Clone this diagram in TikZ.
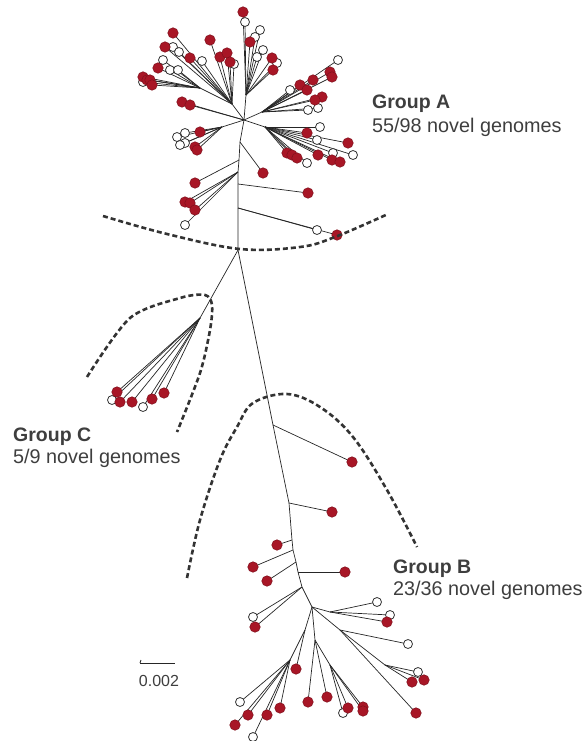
\documentclass[tikz,border=0pt]{standalone}
\usepackage{fontspec}
\setmainfont{Liberation Sans}
\definecolor{leafred}{RGB}{168,22,38}
\definecolor{txt}{RGB}{62,62,62}
\begin{document}
\begin{tikzpicture}[x=1pt,y=-1pt,
  br/.style={draw=black!85, line width=0.7pt},
  rl/.style={circle, inner sep=0pt, minimum size=10.5pt, fill=leafred, draw=leafred!75!black, line width=0.5pt},
  ol/.style={circle, inner sep=0pt, minimum size=9pt, fill=white, draw=black!80, line width=0.8pt},
  dashline/.style={draw=black!80, line width=2.6pt, dash pattern=on 5pt off 3pt},
  gtitle/.style={anchor=base west, inner sep=0pt, text=txt, font=\bfseries\fontsize{19.5}{22}\selectfont},
  gsub/.style={anchor=base west, inner sep=0pt, text=txt, font=\fontsize{19.8}{22}\selectfont}]
\useasboundingbox (0,0) rectangle (585,741);

% internal nodes
\coordinate (hubA) at (244,120);
\coordinate (upA) at (246,95);
\coordinate (ulA) at (232,104);
\coordinate (ulB) at (200,88);
\coordinate (urA) at (262,112);
\coordinate (lrA) at (265,127);
\coordinate (lA) at (222,127);
\coordinate (tA1) at (240,142);
\coordinate (tA2) at (239,160);
\coordinate (tA2b) at (238,172);
\coordinate (tA3) at (238,184);
\coordinate (tA4) at (238,208);
\coordinate (tC) at (238,250);
\coordinate (cC) at (200,318);
\coordinate (tB1) at (273,425);
\coordinate (tB2) at (289,503);
\coordinate (tB3) at (292,540);
\coordinate (tB4) at (293,550);
\coordinate (tB5) at (296,562);
\coordinate (tB6) at (298,572);
\coordinate (tB7) at (302,587);
\coordinate (hubB) at (312,607);
\coordinate (rB1) at (330,612);
\coordinate (rB2) at (340,630);
\coordinate (rB3) at (385,665);
\coordinate (dB1) at (305,630);
\coordinate (dB2) at (290,660);
\coordinate (dB3) at (315,640);
\coordinate (dB4) at (330,665);

% backbone
\draw[br] (hubA) -- (tA1) -- (tA2) -- (tA2b) -- (tA3) -- (tA4) -- (tC) -- (tB1) -- (tB2) -- (tB3) -- (tB4) -- (tB5) -- (tB6) -- (tB7) -- (hubB);
\draw[br] (hubA) -- (upA);
\draw[br] (hubA) -- (ulA) -- (ulB);
\draw[br] (hubA) -- (urA);
\draw[br] (hubA) -- (lrA);
\draw[br] (hubA) -- (lA);
\draw[br] (tC) -- (cC);
\draw[br] (hubB) -- (rB1);
\draw[br] (hubB) -- (rB2) -- (rB3);
\draw[br] (hubB) -- (dB1) -- (dB2);
\draw[br] (hubB) -- (dB3) -- (dB4);

\def\leaves{%
245/22/ol/upA, 260/30/ol/upA, 255/37/ol/upA, 263/50/ol/upA, 257/57/ol/upA, 277/63/ol/upA,
243/12/rl/upA, 250/42/rl/upA, 272/58/rl/upA, 273/70/rl/upA,
173/47/ol/ulA, 179/52/ol/ulA, 202/61/ol/ulA, 234/64/ol/ulA,
210/40/rl/ulA, 220/57/rl/ulA, 227/53/rl/ulA, 230/62/rl/ulA, 190/58/rl/ulA, 173/33/rl/ulA, 165/47/rl/ulA,
182/102/rl/hubA, 190/105/rl/hubA,
163/60/ol/ulB, 170/70/ol/ulB, 178/70/ol/ulB, 143/82/ol/ulB,
158/68/rl/ulB, 143/77/rl/ulB, 147/80/rl/ulB, 150/80/rl/ulB, 152/85/rl/ulB,
338/60/ol/urA, 290/90/ol/urA, 318/108/ol/urA, 308/110/ol/urA,
330/72/rl/urA, 332/77/rl/urA, 313/80/rl/urA, 300/85/rl/urA, 307/90/rl/urA, 322/97/rl/urA, 315/100/rl/urA,
320/127/ol/lrA, 317/140/ol/lrA, 307/163/ol/lrA, 333/153/ol/lrA, 353/155/ol/lrA,
307/133/rl/lrA, 348/143/rl/lrA, 287/153/rl/lrA, 292/155/rl/lrA, 297/158/rl/lrA, 318/155/rl/lrA, 332/160/rl/lrA, 340/162/rl/lrA,
177/137/ol/lA, 185/133/ol/lA, 185/143/ol/lA, 180/145/ol/lA,
200/132/rl/lA, 195/147/rl/lA, 197/150/rl/lA,
263/173/rl/tA1, 195/183/rl/tA2,
185/225/ol/tA2b, 185/202/rl/tA2b, 190/203/rl/tA2b, 195/210/rl/tA2b,
308/193/rl/tA3, 317/230/ol/tA4, 337/235/rl/tA4,
112/400/ol/cC, 143/407/ol/cC, 117/392/rl/cC, 120/402/rl/cC, 132/402/rl/cC, 152/399/rl/cC, 164/393/rl/cC,
352/462/rl/tB1, 332/512/rl/tB2, 277/545/rl/tB3, 253/567/rl/tB4, 267/581/rl/tB5, 345/572/rl/tB6,
253/617/ol/tB7, 255/627/rl/tB7,
377/602/ol/rB1, 390/615/ol/rB1, 387/622/rl/rB1,
408/644/ol/rB2, 418/672/ol/rB3, 412/682/rl/rB3, 424/680/rl/rB3, 416/713/rl/rB2,
296/669/rl/dB1,
240/702/ol/dB2, 253/737/ol/dB2, 248/715/rl/dB2, 235/725/rl/dB2, 267/715/rl/dB2, 280/708/rl/dB2,
308/702/rl/dB3, 327/697/rl/dB3,
343/713/ol/dB4, 348/708/rl/dB4, 363/707/rl/dB4, 363/711/rl/dB4}

\foreach \x/\y/\t/\p [count=\i] in \leaves {
  \coordinate (L\i) at (\x,\y);
  \draw[br] (\p) -- (L\i);
}
\foreach \x/\y/\t/\p [count=\i] in \leaves {
  \node[\t] (N\i) at (L\i) {};
}

% group boundaries
\draw[dashline] plot[smooth, tension=0.6] coordinates {(103,216) (167,234) (240,249) (300,247) (335,237) (388,214)};
\draw[dashline] plot[smooth, tension=0.5] coordinates {(87,377) (130,318) (180,298) (205,295) (212,305) (210,330) (200,373) (177,432)};
\draw[dashline] plot[smooth, tension=0.6] coordinates {(187,578) (200,520) (220,460) (237,427) (253,403) (287,394) (320,407) (353,437) (387,490) (417,547)};

% labels
\node[gtitle] (gA) at (372,109) {Group A};
\node[gsub] (gA2) at (372,132) {55/98 novel genomes};
\node[gtitle] (gC) at (13,441) {Group C};
\node[gsub] (gC2) at (13,463) {5/9 novel genomes};
\node[gtitle] (gB) at (393,573) {Group B};
\node[gsub] (gB2) at (393,595) {23/36 novel genomes};

% scale bar
\coordinate (s1) at (140,663);
\coordinate (s2) at (175,663);
\coordinate (s0) at (141,660);
\draw[br, line width=0.9pt] (s1) -- (s2);
\draw[br, line width=0.9pt] (s0) -- (s1);
\node[inner sep=0pt, text=txt, font=\fontsize{16}{18}\selectfont] (sl) at (159,681) {0.002};
\end{tikzpicture}
\end{document}
